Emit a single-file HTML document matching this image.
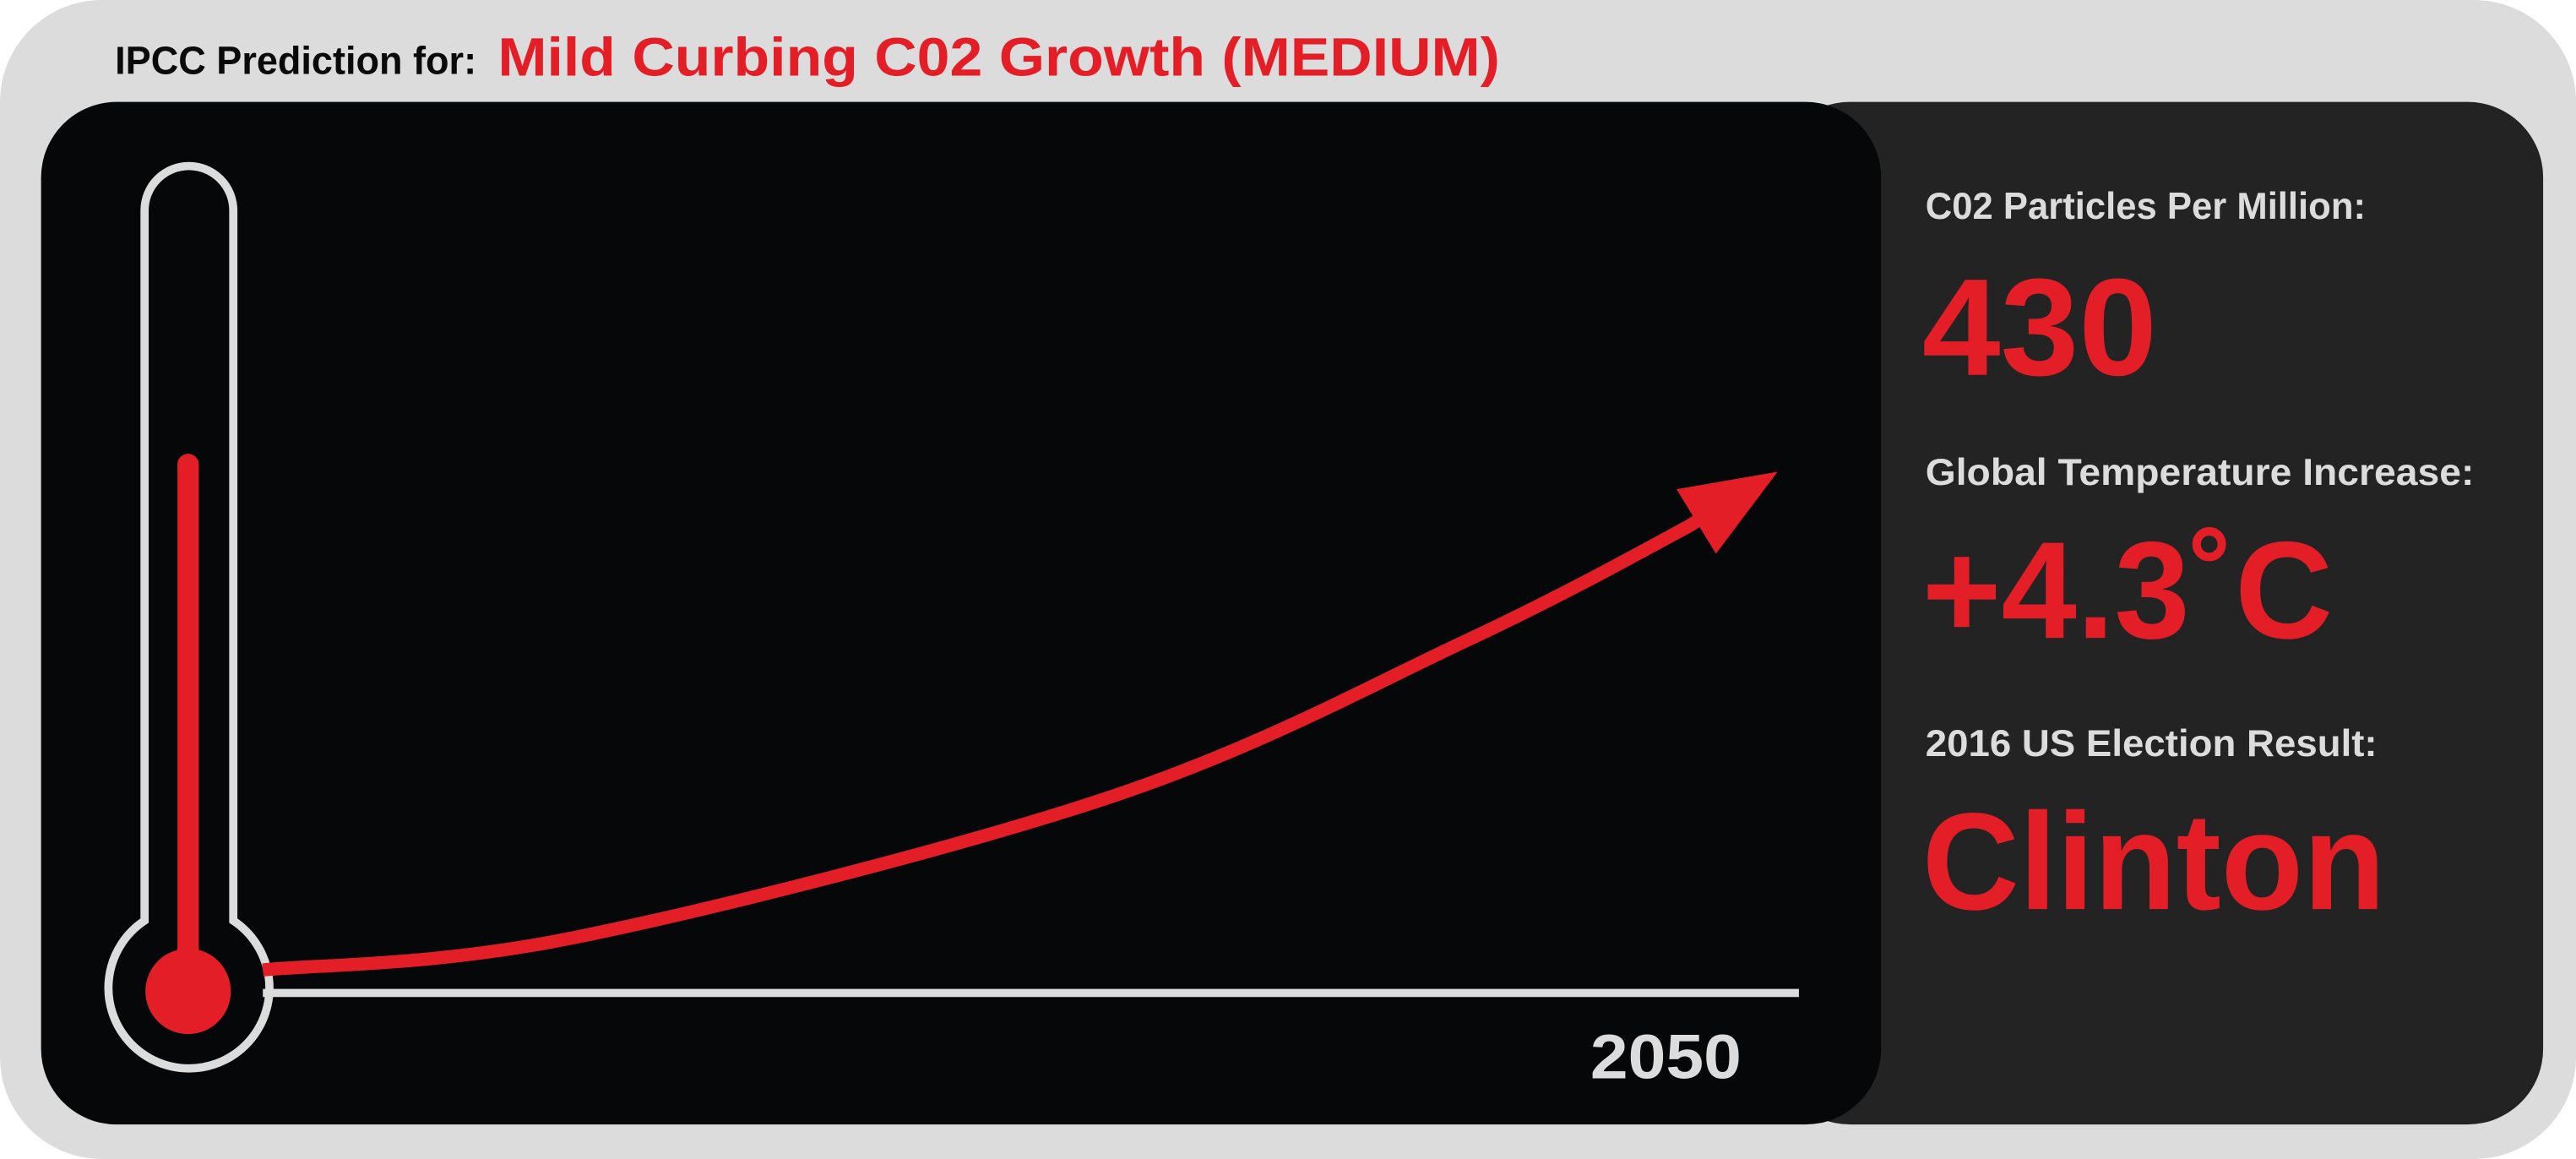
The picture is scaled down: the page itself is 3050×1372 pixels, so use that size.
<!DOCTYPE html>
<html><head><meta charset="utf-8">
<style>
html,body{margin:0;padding:0;background:#fff;}
svg{display:block;}
text{font-family:"Liberation Sans",sans-serif;font-weight:bold;}
</style></head>
<body>
<svg id="chart" width="3050" height="1372" viewBox="0 0 1568 705" preserveAspectRatio="none" xmlns="http://www.w3.org/2000/svg">
  <rect x="0" y="0" width="1568" height="705" rx="62" fill="#dcdcdc"/>
  <text x="70" y="45" font-size="24" fill="#0a0a0a" textLength="220" lengthAdjust="spacingAndGlyphs">IPCC Prediction for:</text>
  <text x="303" y="46" font-size="33" fill="#e41e26" textLength="610" lengthAdjust="spacingAndGlyphs">Mild Curbing C02 Growth (MEDIUM)</text>
  <rect x="1080" y="62" width="468" height="622" rx="46" fill="#232323"/>
  <rect x="25" y="62" width="1120" height="622" rx="46" fill="#050708"/>
  <g id="thermo">
    <path d="M88,560 L88,128 A27,27 0 0 1 142,128 L142,560 A49,49 0 1 1 88,560 Z" fill="none" stroke="#dcdcdc" stroke-width="5"/>
    <rect x="108" y="276" width="13" height="320" rx="6.5" fill="#e41e26"/>
    <circle cx="114.5" cy="603" r="26" fill="#e41e26"/>
  </g>
  <line x1="160" y1="604" x2="1095" y2="604" stroke="#dcdcdc" stroke-width="5"/>
  <text x="968" y="656" font-size="38" fill="#dcdcdc" textLength="92" lengthAdjust="spacingAndGlyphs">2050</text>
  <g id="series"></g>
  <text x="1172" y="133" font-size="23" fill="#dcdcdc" textLength="268" lengthAdjust="spacingAndGlyphs">C02 Particles Per Million:</text>
  <text x="1170" y="228" font-size="84" fill="#e41e26" textLength="143" lengthAdjust="spacingAndGlyphs">430</text>
  <text x="1172" y="295" font-size="23" fill="#dcdcdc" textLength="334" lengthAdjust="spacingAndGlyphs">Global Temperature Increase:</text>
  <text x="1170" y="388" font-size="84" fill="#e41e26" textLength="250" lengthAdjust="spacingAndGlyphs">+4.3˚C</text>
  <text x="1172" y="460" font-size="23" fill="#dcdcdc" textLength="275" lengthAdjust="spacingAndGlyphs">2016 US Election Result:</text>
  <text x="1170" y="553" font-size="84" fill="#e41e26" textLength="282" lengthAdjust="spacingAndGlyphs">Clinton</text>
</svg>
<script>
const years = [2016, 2023, 2035, 2043, 2048, 2050];
const temps = [0, 0.28, 1.49, 2.84, 3.83, 4.3];
function xScale(y){ return 160 + (y - 2016) * (1082 - 160) / (2050 - 2016); }
function yScale(t){ return 590 - t * (590 - 287) / 4.3; }
const g = document.getElementById('series');
const NS = 'http://www.w3.org/2000/svg';
const pts = years.map((y,i)=>[xScale(y), yScale(temps[i])]);
const n = pts.length;
const line = pts.slice(0, n-1);
let d = 'M' + line[0][0] + ',' + line[0][1];
for (let i = 0; i < line.length - 1; i++) {
  const p0 = line[Math.max(i-1,0)], p1 = line[i], p2 = line[i+1], p3 = pts[Math.min(i+2,n-1)];
  const c1 = [p1[0] + (p2[0]-p0[0])/6, p1[1] + (p2[1]-p0[1])/6];
  const c2 = [p2[0] - (p3[0]-p1[0])/6, p2[1] - (p3[1]-p1[1])/6];
  d += ' C' + c1.join(',') + ' ' + c2.join(',') + ' ' + p2.join(',');
}
const tip = pts[n-1], prev = pts[n-2];
const dx = tip[0]-prev[0], dy = tip[1]-prev[1], len = Math.hypot(dx,dy);
const ux = dx/len, uy = dy/len;
const bx = tip[0] - ux*58, by = tip[1] - uy*58;
d += ' L' + (bx + ux*4) + ',' + (by + uy*4);
const path = document.createElementNS(NS, 'path');
path.setAttribute('d', d);
path.setAttribute('fill', 'none');
path.setAttribute('stroke', '#e41e26');
path.setAttribute('stroke-width', '8');


g.appendChild(path);
const head = document.createElementNS(NS, 'polygon');
const w = 23;
head.setAttribute('points', tip.join(',') + ' ' + (bx - uy*w) + ',' + (by + ux*w) + ' ' + (bx + uy*w) + ',' + (by - ux*w));
head.setAttribute('fill', '#e41e26');


g.appendChild(head);
</script>
</body></html>
